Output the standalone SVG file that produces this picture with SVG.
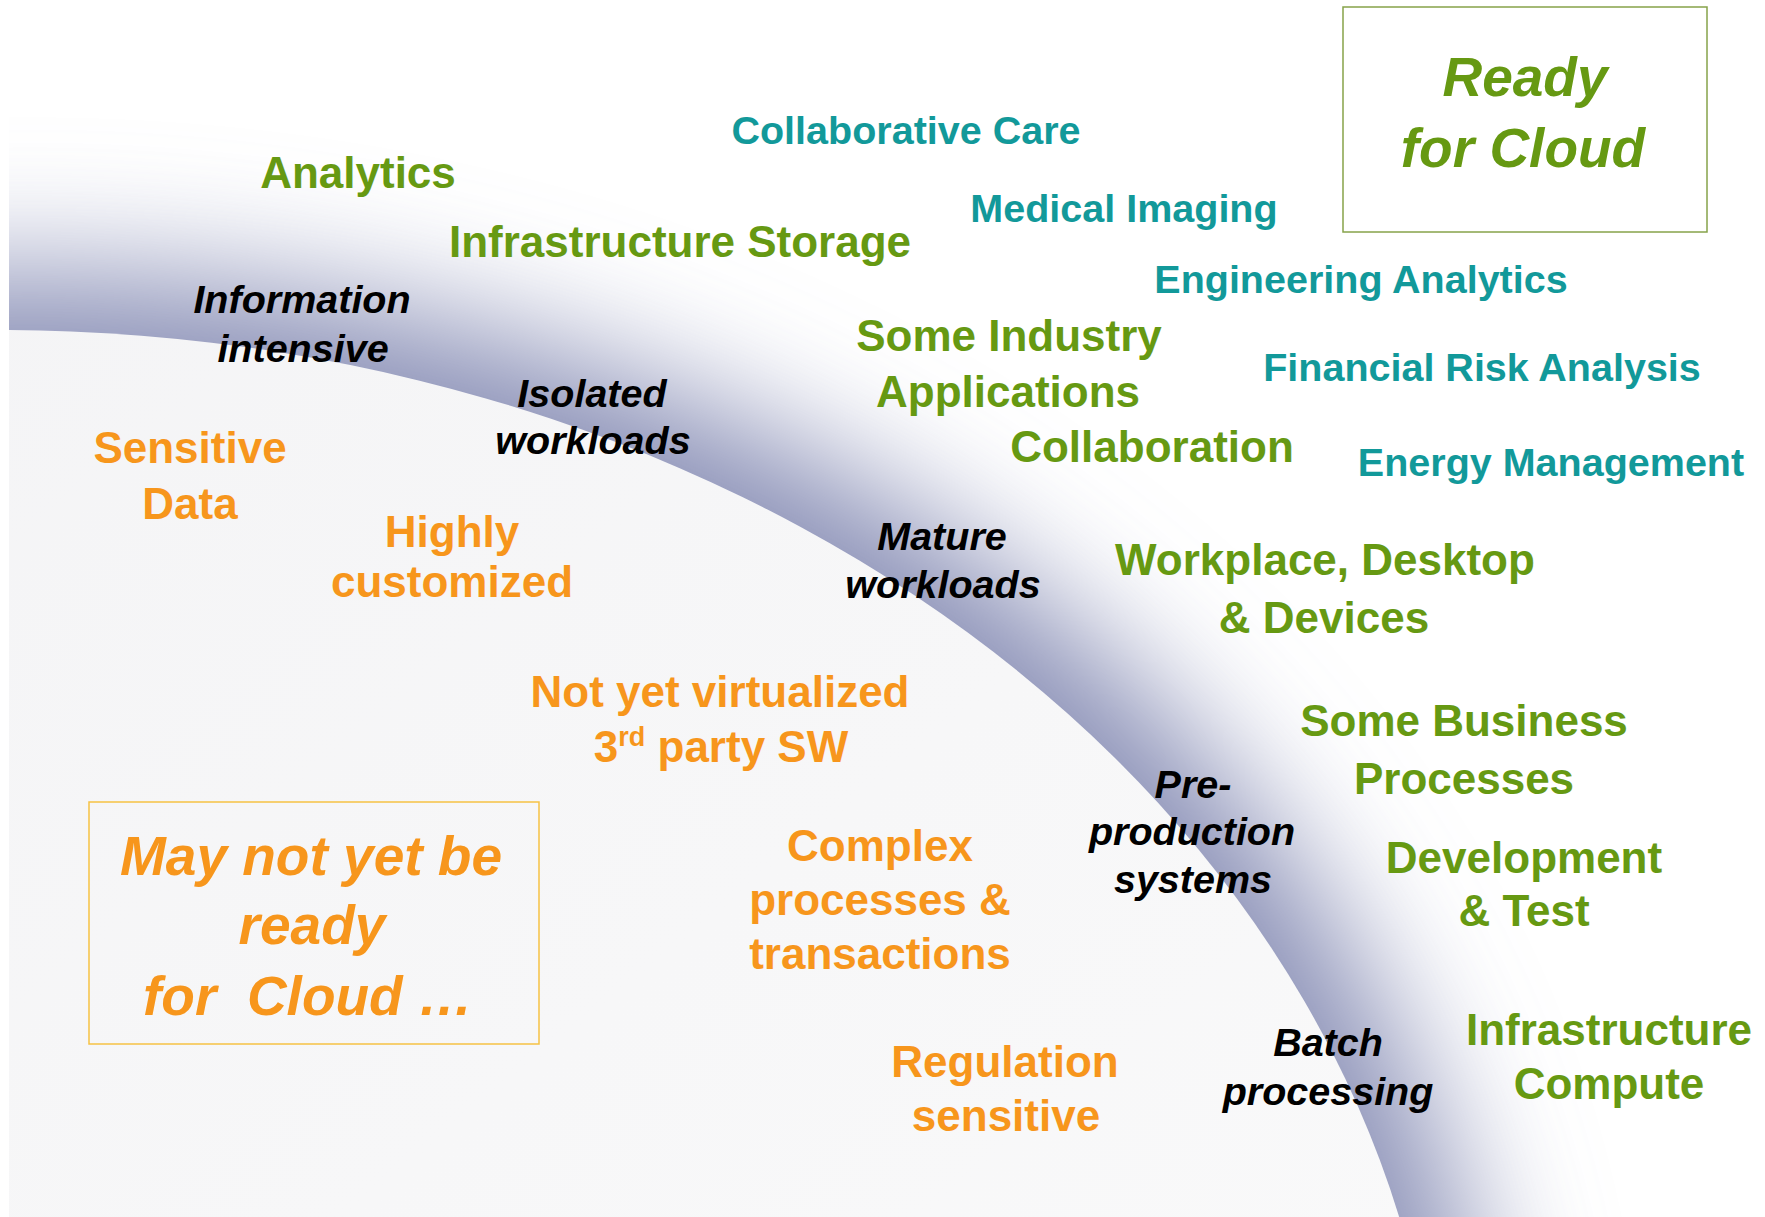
<svg xmlns="http://www.w3.org/2000/svg" width="1765" height="1217" viewBox="0 0 1765 1217">
<style>
text{font-family:"Liberation Sans",Arial,Helvetica,sans-serif;font-weight:bold;text-anchor:middle}
.g{fill:#669912;font-size:44px}
.t{fill:#12999a;font-size:39.5px}
.o{fill:#f7961c;font-size:44px}
.k{fill:#000;font-size:39.5px;font-style:italic}
.bg{fill:#669912;font-size:55px;font-style:italic}
.bo{fill:#f7961c;font-size:55px;font-style:italic}
</style>
<defs>
<linearGradient id="gray" x1="0" y1="0" x2="1" y2="1">
<stop offset="0" stop-color="#f2f2f4"/>
<stop offset="1" stop-color="#fcfcfc"/>
</linearGradient>
<filter id="blur" x="-10%" y="-10%" width="120%" height="120%">
<feGaussianBlur stdDeviation="65"/>
</filter>
<clipPath id="clip"><rect x="9" y="0" width="1756" height="1217"/></clipPath>
</defs>
<rect width="1765" height="1217" fill="#fff"/>
<g id="background" clip-path="url(#clip)">
<ellipse cx="30" cy="1470" rx="1464" ry="1198" fill="#8b91b7" filter="url(#blur)"/>
<ellipse cx="0" cy="1500" rx="1442" ry="1170" fill="url(#gray)"/>
</g>
<g id="ready-box">
<rect x="1343" y="7" width="364" height="225" fill="none" stroke="#86a34a" stroke-width="1.5"/>
<text class="bg" x="1525" y="96">Ready</text>
<text class="bg" x="1523" y="167">for Cloud</text>
</g>
<g id="maynot-box">
<rect x="89" y="802" width="450" height="242" fill="none" stroke="#f6c244" stroke-width="1.5"/>
<text class="bo" x="311" y="875">May not yet be</text>
<text class="bo" x="312" y="944">ready</text>
<text class="bo" x="308" y="1015">for&#160; Cloud …</text>
</g>
<g id="collaborative-care"><text class="t" x="906" y="144">Collaborative Care</text></g>
<g id="medical-imaging"><text class="t" x="1124" y="222">Medical Imaging</text></g>
<g id="engineering-analytics"><text class="t" x="1361" y="293">Engineering Analytics</text></g>
<g id="financial-risk"><text class="t" x="1482" y="381">Financial Risk Analysis</text></g>
<g id="energy-management"><text class="t" x="1551" y="476">Energy Management</text></g>
<g id="analytics"><text class="g" x="358" y="188">Analytics</text></g>
<g id="infrastructure-storage"><text class="g" x="680" y="257">Infrastructure Storage</text></g>
<g id="some-industry"><text class="g" x="1009" y="351">Some Industry</text><text class="g" x="1008" y="407">Applications</text></g>
<g id="collaboration"><text class="g" x="1152" y="462">Collaboration</text></g>
<g id="workplace"><text class="g" x="1325" y="575">Workplace, Desktop</text><text class="g" x="1324" y="633">&amp; Devices</text></g>
<g id="some-business"><text class="g" x="1464" y="736">Some Business</text><text class="g" x="1464" y="794">Processes</text></g>
<g id="development"><text class="g" x="1524" y="873">Development</text><text class="g" x="1524" y="926">&amp; Test</text></g>
<g id="infrastructure-compute"><text class="g" x="1609" y="1045">Infrastructure</text><text class="g" x="1609" y="1099">Compute</text></g>
<g id="information-intensive"><text class="k" x="302" y="313">Information</text><text class="k" x="303" y="362">intensive</text></g>
<g id="isolated-workloads"><text class="k" x="592" y="407">Isolated</text><text class="k" x="593" y="454">workloads</text></g>
<g id="mature-workloads"><text class="k" x="942" y="550">Mature</text><text class="k" x="943" y="598">workloads</text></g>
<g id="pre-production"><text class="k" x="1193" y="798">Pre-</text><text class="k" x="1192" y="845">production</text><text class="k" x="1193" y="893">systems</text></g>
<g id="batch-processing"><text class="k" x="1328" y="1056">Batch</text><text class="k" x="1328" y="1105">processing</text></g>
<g id="sensitive-data"><text class="o" x="190" y="463">Sensitive</text><text class="o" x="190" y="519">Data</text></g>
<g id="highly-customized"><text class="o" x="452" y="547">Highly</text><text class="o" x="452" y="597">customized</text></g>
<g id="not-virtualized"><text class="o" x="720" y="707">Not yet virtualized</text><text class="o" x="721" y="762">3<tspan font-size="27" dy="-16">rd</tspan><tspan dy="16"> party SW</tspan></text></g>
<g id="complex"><text class="o" x="880" y="861">Complex</text><text class="o" x="880" y="915">processes &amp;</text><text class="o" x="880" y="969">transactions</text></g>
<g id="regulation"><text class="o" x="1005" y="1077">Regulation</text><text class="o" x="1006" y="1131">sensitive</text></g>
<g id="connectors"/>
</svg>
